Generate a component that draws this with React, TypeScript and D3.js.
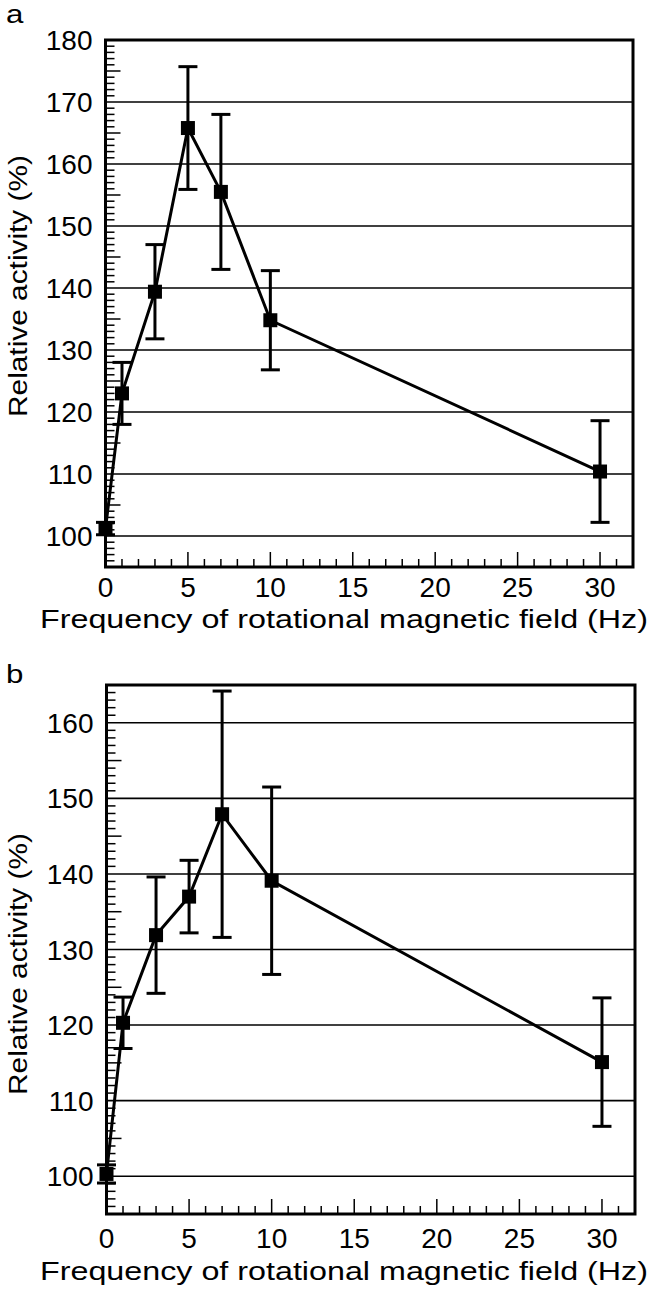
import React from "react";
import * as d3 from "d3";

const frequencies = [0, 1, 3, 5, 7, 10, 30];
const meanA = [101.2, 123.0, 139.4, 165.8, 155.5, 134.8, 110.4];
const errA = [1.0, 5.0, 7.6, 9.9, 12.5, 8.0, 8.2];
const meanB = [100.3, 120.3, 131.9, 137.0, 147.9, 139.1, 115.1];
const errB = [1.2, 3.4, 7.7, 4.8, 16.3, 12.4, 8.5];

const xTicksMajor = [0, 5, 10, 15, 20, 25, 30];
const yTicksA = [100, 110, 120, 130, 140, 150, 160, 170, 180];
const yTicksB = [100, 110, 120, 130, 140, 150, 160];

const xTitle = "Frequency of rotational magnetic field (Hz)";
const yTitle = "Relative activity (%)";

const FONT = "'Liberation Sans', Arial, Helvetica, sans-serif";

type PanelProps = {
  letter: string;
  letterY: number;
  means: number[];
  errs: number[];
  yDomain: [number, number];
  yTicks: number[];
  left: number;
  right: number;
  top: number;
  bottom: number;
  xLabelDy: number;
  titleDy: number;
  yTitleCenter: number;
};

function Panel(p: PanelProps) {
  const x = d3.scaleLinear().domain([0, 32]).range([p.left, p.right]);
  const y = d3.scaleLinear().domain(p.yDomain).range([p.bottom, p.top]);
  const minorX = d3.range(1, 32);
  const minorY = d3.range(p.yDomain[0] + 1, p.yDomain[1]).filter((v) => v % 10 !== 0);
  const pts = frequencies.map((f, i) => ({ f, m: p.means[i], e: p.errs[i] }));
  const line = d3
    .line<{ f: number; m: number }>()
    .x((d) => x(d.f))
    .y((d) => y(d.m));
  const cap = 9.5;
  const sq = 14;
  return (
    <g>
      <text
        transform={`translate(6,${p.letterY}) scale(1.25,1)`}
        fontSize={25}
        fontFamily={FONT}
      >
        {p.letter}
      </text>
      {/* gridlines */}
      {p.yTicks.map((t) => (
        <line key={"g" + t} x1={p.left} x2={p.right} y1={y(t)} y2={y(t)} stroke="#000" strokeWidth={1.6} />
      ))}
      {/* minor y ticks */}
      {minorY.map((t) => (
        <line
          key={"my" + t}
          x1={p.left}
          x2={p.left + (t % 5 === 0 ? 15 : 9)}
          y1={y(t)}
          y2={y(t)}
          stroke="#000"
          strokeWidth={1.5}
        />
      ))}
      {/* x ticks */}
      {minorX.map((t) => (
        <line
          key={"mx" + t}
          x1={x(t)}
          x2={x(t)}
          y1={p.bottom}
          y2={p.bottom - (t % 5 === 0 ? 15 : 8)}
          stroke="#000"
          strokeWidth={1.5}
        />
      ))}
      {/* frame */}
      <rect
        x={p.left}
        y={p.top}
        width={p.right - p.left}
        height={p.bottom - p.top}
        fill="none"
        stroke="#000"
        strokeWidth={3}
      />
      {/* y tick labels */}
      {p.yTicks.map((t) => (
        <text
          key={"yl" + t}
          x={p.left - 13}
          y={y(t)}
          dy="0.36em"
          textAnchor="end"
          fontSize={28}
          fontFamily={FONT}
        >
          {t}
        </text>
      ))}
      {/* x tick labels */}
      {xTicksMajor.map((t) => (
        <text
          key={"xl" + t}
          x={x(t)}
          y={p.bottom + p.xLabelDy}
          textAnchor="middle"
          fontSize={28}
          fontFamily={FONT}
        >
          {t}
        </text>
      ))}
      <text
        x={40}
        y={p.bottom + p.titleDy}
        fontSize={26}
        fontFamily={FONT}
        textLength={608}
        lengthAdjust="spacingAndGlyphs"
      >
        {xTitle}
      </text>
      <text
        transform={`translate(27,${p.yTitleCenter}) rotate(-90)`}
        textAnchor="middle"
        fontSize={26}
        fontFamily={FONT}
        textLength={262}
        lengthAdjust="spacingAndGlyphs"
      >
        {yTitle}
      </text>
      {/* data line */}
      <path d={line(pts) || ""} fill="none" stroke="#000" strokeWidth={3} />
      {/* error bars */}
      {pts.map((d) => (
        <g key={"e" + d.f}>
          <line x1={x(d.f)} x2={x(d.f)} y1={y(d.m - d.e)} y2={y(d.m + d.e)} stroke="#000" strokeWidth={3} />
          <line x1={x(d.f) - cap} x2={x(d.f) + cap} y1={y(d.m + d.e)} y2={y(d.m + d.e)} stroke="#000" strokeWidth={3} />
          <line x1={x(d.f) - cap} x2={x(d.f) + cap} y1={y(d.m - d.e)} y2={y(d.m - d.e)} stroke="#000" strokeWidth={3} />
          <rect x={x(d.f) - sq / 2} y={y(d.m) - sq / 2} width={sq} height={sq} fill="#000" />
        </g>
      ))}
    </g>
  );
}

export default function App() {
  return (
    <svg
      width={657}
      height={1295}
      style={{ position: "absolute", left: 0, top: 0, background: "#fff" }}
    >
      <rect width={657} height={1295} fill="#fff" />
      <Panel
        letter="a"
        letterY={23}
        means={meanA}
        errs={errA}
        yDomain={[95, 180]}
        yTicks={yTicksA}
        left={105.5}
        right={633}
        top={40}
        bottom={567}
        xLabelDy={30}
        titleDy={61}
        yTitleCenter={286}
      />
      <Panel
        letter="b"
        letterY={683}
        means={meanB}
        errs={errB}
        yDomain={[95, 165]}
        yTicks={yTicksB}
        left={106.5}
        right={635}
        top={685}
        bottom={1214}
        xLabelDy={34}
        titleDy={66}
        yTitleCenter={964}
      />
    </svg>
  );
}
